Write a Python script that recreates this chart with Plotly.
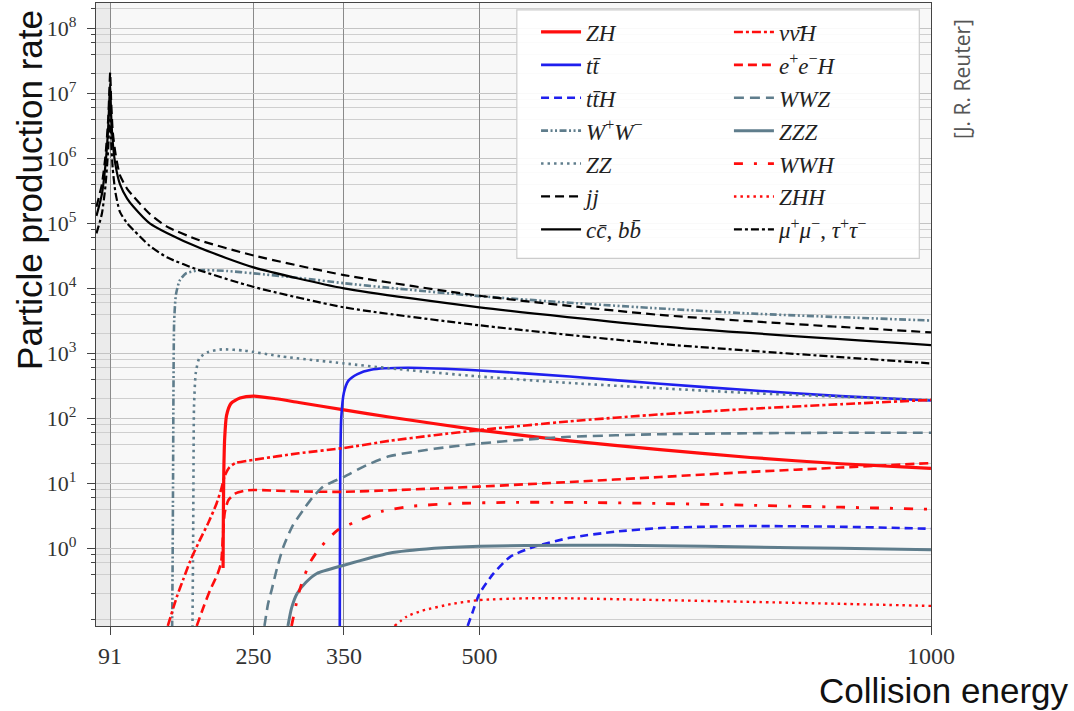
import plotly.graph_objects as go

# energies (GeV) and rates (fb), one pair of lists per process
E_JJ = [76, 82, 86, 89, 90.3, 91.2, 92.2, 94, 97, 102, 110, 117, 135, 154, 190, 250, 350, 500, 700, 1000]
JJ = [1.8e5, 4e5, 1.1e6, 4e6, 1.1e7, 2.1e7, 8e6, 2.6e6, 1.2e6, 5.5e5, 3.4e5, 2.6e5, 1.4e5, 8.9e4, 5.5e4, 3.2e4, 1.6e4, 7.7e3, 3.9e3, 2.1e3]
E_CC = [76, 82, 86, 89, 90.3, 91.2, 92.2, 94, 97, 102, 110, 117, 135, 154, 190, 250, 350, 500, 700, 1000]
CC = [1.3e5, 2.8e5, 8e5, 3e6, 8e6, 1.4e7, 5e6, 1.8e6, 8e5, 4e5, 2.4e5, 1.8e5, 1e5, 7.1e4, 4.2e4, 2.1e4, 1.0e4, 5.1e3, 2.6e3, 1.34e3]
E_MM = [76, 82, 86, 89, 90.3, 91.2, 92.2, 94, 97, 102, 110, 117, 135, 154, 190, 250, 350, 500, 700, 1000]
MM = [7e4, 1.4e5, 3.8e5, 1.4e6, 4e6, 7e6, 2e6, 7e5, 3e5, 1.5e5, 1e5, 7.9e4, 4.5e4, 3e4, 1.9e4, 1.05e4, 5.1e3, 2.7e3, 1.4e3, 7e2]

E_WW = [159.8, 160.3, 160.8, 161.3, 162, 164, 168, 175, 190, 220, 250, 300, 350, 400, 500, 600, 700, 800, 900, 1000]
WW = [0.06, 0.5, 10, 300, 3000, 8000, 1.3e4, 1.7e4, 1.9e4, 1.85e4, 1.7e4, 1.45e4, 1.2e4, 1.02e4, 7.6e3, 6.0e3, 4.9e3, 4.1e3, 3.6e3, 3.2e3]
E_ZZ = [182.3, 183, 183.5, 184, 186, 190, 200, 215, 240, 280, 350, 400, 500, 600, 700, 800, 900, 1000]
ZZ = [0.06, 1, 20, 150, 500, 850, 1050, 1150, 1100, 900, 700, 590, 440, 350, 290, 245, 215, 190]

E_ZH = [216.2, 216.5, 217, 218, 220, 225, 235, 250, 275, 300, 350, 400, 500, 600, 700, 800, 900, 1000]
ZH = [0.5, 3, 15, 50, 110, 170, 205, 220, 200, 175, 135, 105, 66, 45, 33, 25, 20, 17]
E_TT = [345.4, 345.6, 346, 347, 350, 355, 365, 380, 420, 500, 600, 700, 800, 900, 1000]
TT = [0.06, 1, 20, 100, 250, 380, 480, 560, 600, 545, 440, 340, 270, 220, 188]
E_TTH = [487, 492, 500, 515, 534, 560, 600, 650, 700, 750, 800, 900, 1000]
TTH = [0.064, 0.1, 0.2, 0.4, 0.74, 1.05, 1.45, 1.8, 2.05, 2.15, 2.2, 2.15, 2.0]

E_NNH = [155, 165, 172, 180, 190, 200, 209, 214, 218, 223, 230, 250, 300, 350, 400, 450, 500, 600, 700, 800, 900, 1000]
NNH = [0.064, 0.18, 0.33, 0.65, 1.3, 2.5, 4.9, 8, 13, 17.5, 20.5, 23, 29, 35, 45, 55, 66, 90, 115, 140, 165, 192]
E_EEH = [187, 195, 202, 210, 214, 216, 218, 222, 230, 240, 250, 300, 350, 400, 500, 600, 700, 800, 900, 1000]
EEH = [0.064, 0.13, 0.23, 0.4, 0.6, 1.5, 3.5, 5.5, 7, 7.7, 7.9, 7.5, 7.4, 7.8, 8.9, 10.5, 12.5, 15, 17.5, 20.5]
E_WWZ = [262, 266, 270, 276, 283, 293, 305, 315, 327, 350, 375, 400, 450, 500, 550, 600, 700, 800, 900, 1000]
WWZ = [0.064, 0.14, 0.23, 0.5, 1.06, 2.2, 3.9, 6, 8.9, 12.6, 19, 26, 34, 41, 47, 52, 57, 59, 60, 60]
E_ZZZ = [288, 292, 298, 308, 320, 350, 400, 450, 500, 600, 700, 800, 900, 1000]
ZZZ = [0.064, 0.12, 0.2, 0.3, 0.41, 0.55, 0.84, 1.0, 1.08, 1.12, 1.1, 1.05, 1.0, 0.95]
E_WWH = [292, 301, 312, 323, 343, 367, 392, 422, 474, 534, 600, 700, 800, 900, 1000]
WWH = [0.064, 0.23, 0.59, 1.0, 1.9, 2.7, 3.7, 4.4, 4.9, 5.1, 5.1, 4.9, 4.6, 4.3, 4.0]
E_ZHH = [406, 420, 437, 470, 500, 550, 600, 700, 800, 900, 1000]
ZHH = [0.064, 0.09, 0.11, 0.14, 0.16, 0.17, 0.17, 0.16, 0.15, 0.14, 0.13]

X_TICKS = [91, 250, 350, 500, 1000]
Y_TICKS = [1e0, 1e1, 1e2, 1e3, 1e4, 1e5, 1e6, 1e7, 1e8]
Y_TICKTEXT = ["10<sup>%d</sup>" % k for k in range(9)]
Y_MINOR = [m * 10.0 ** k for k in range(-2, 9) for m in (2, 4, 6, 8)]
Z_POLE = 91

RED = "#ff0d0d"
BLUE = "#1f1fee"
SLATE = "#5f7d8c"
BLACK = "#000000"

# (name, x, y, color, width, dash, legend column)
series = [
    ("<i>ZH</i>", E_ZH, ZH, RED, 3.2, "solid", "legend"),
    ("<i>tt\u0304</i>", E_TT, TT, BLUE, 2.6, "solid", "legend"),
    ("<i>tt\u0304H</i>", E_TTH, TTH, BLUE, 2.6, "8px,5px", "legend"),
    ("<i>W</i><sup>+</sup><i>W</i><sup>\u2212</sup>", E_WW, WW, SLATE, 2.6, "7px,2.5px,2px,2.5px,2px,2.5px", "legend"),
    ("<i>ZZ</i>", E_ZZ, ZZ, SLATE, 2.6, "2.5px,4px", "legend"),
    ("<i>jj</i>", E_JJ, JJ, BLACK, 2.2, "9px,5px", "legend"),
    ("<i>cc\u0304</i>, <i>bb\u0304</i>", E_CC, CC, BLACK, 2.2, "solid", "legend"),
    ("<i>\u03bd\u03bd\u0304H</i>", E_NNH, NNH, RED, 2.6, "9px,3px,3px,3px", "legend2"),
    ("<i>e</i><sup>+</sup><i>e</i><sup>\u2212</sup><i>H</i>", E_EEH, EEH, RED, 2.6, "9px,5px", "legend2"),
    ("<i>WWZ</i>", E_WWZ, WWZ, SLATE, 2.6, "10px,6px", "legend2"),
    ("<i>ZZZ</i>", E_ZZZ, ZZZ, SLATE, 3.0, "solid", "legend2"),
    ("<i>WWH</i>", E_WWH, WWH, RED, 2.8, "9px,11px,3px,11px", "legend2"),
    ("<i>ZHH</i>", E_ZHH, ZHH, RED, 2.4, "2.5px,4px", "legend2"),
    ("<i>\u03bc</i><sup>+</sup><i>\u03bc</i><sup>\u2212</sup>, <i>\u03c4</i><sup>+</sup><i>\u03c4</i><sup>\u2212</sup>",
     E_MM, MM, BLACK, 2.2, "8px,3px,3px,3px", "legend2"),
]

fig = go.Figure()
for name, xs, ys, color, width, dash, leg in series:
    fig.add_trace(go.Scatter(
        x=xs, y=ys, name=name, mode="lines", legend=leg,
        line=dict(color=color, width=width, dash=dash, shape="spline", smoothing=0.6),
    ))

serif = "Liberation Serif, DejaVu Serif, serif"
sans = "Liberation Sans, Arial, sans-serif"
legend_style = dict(
    bgcolor="rgba(0,0,0,0)", borderwidth=0, yanchor="top", xanchor="left", y=0.988,
    font=dict(family=serif, size=23, color="#222"), tracegroupgap=0, itemwidth=40,
)

fig.update_layout(
    width=1074, height=711,
    margin=dict(l=96, r=143, t=3, b=85),
    paper_bgcolor="white",
    plot_bgcolor="#f8f8f8",
    showlegend=True,
    legend=dict(x=0.527, **legend_style),
    legend2=dict(x=0.758, **legend_style),
)

# darker band below the Z pole
fig.add_vrect(x0=70, x1=Z_POLE, fillcolor="#ebebeb", line_width=0, layer="below")

# legend frame
fig.add_shape(type="rect", xref="paper", yref="paper", x0=0.504, x1=0.986, y0=0.59, y1=0.989,
              fillcolor="rgba(255,255,255,0.9)", line=dict(color="#cccccc", width=1.2), layer="above")

fig.update_xaxes(
    range=[75.5, 1000], tickvals=X_TICKS, ticks="outside", ticklen=8, tickcolor="#444",
    showgrid=True, gridcolor="#8a8a8a", gridwidth=1, zeroline=False,
    showline=True, linecolor="#444", linewidth=1.3, mirror=True,
    tickfont=dict(family=serif, size=24, color="#333"),
)
fig.update_yaxes(
    type="log", range=[-1.195, 8.39], tickvals=Y_TICKS, ticktext=Y_TICKTEXT,
    ticks="outside", ticklen=8, tickcolor="#444", ticklabelstandoff=6,
    showgrid=True, gridcolor="#c4c4c4", gridwidth=1, zeroline=False,
    showline=True, linecolor="#444", linewidth=1.3, mirror=True,
    tickfont=dict(family=serif, size=22, color="#333"),
    minor=dict(tickvals=Y_MINOR, ticks="outside", ticklen=4, tickcolor="#444",
               showgrid=True, gridcolor="#cfcfcf", gridwidth=1),
)

fig.add_annotation(text="Particle production rate", xref="paper", yref="paper",
                   x=-0.079, y=0.7, xanchor="center", yanchor="middle", textangle=-90,
                   showarrow=False, font=dict(family=sans, size=35, color="#111"))
fig.add_annotation(text="Collision energy", xref="paper", yref="paper",
                   x=1.168, y=-0.103, xanchor="right", yanchor="middle", showarrow=False,
                   font=dict(family=sans, size=35, color="#111"))
fig.add_annotation(text="[J. R. Reuter]", xref="paper", yref="paper",
                   x=1.037, y=0.878, xanchor="center", yanchor="middle", textangle=-90,
                   showarrow=False, font=dict(family="Open Sans, sans-serif", size=21, color="#555"))

fig.write_html("out.html", config={"displayModeBar": False},
               post_script="document.body.style.margin='0px';")
